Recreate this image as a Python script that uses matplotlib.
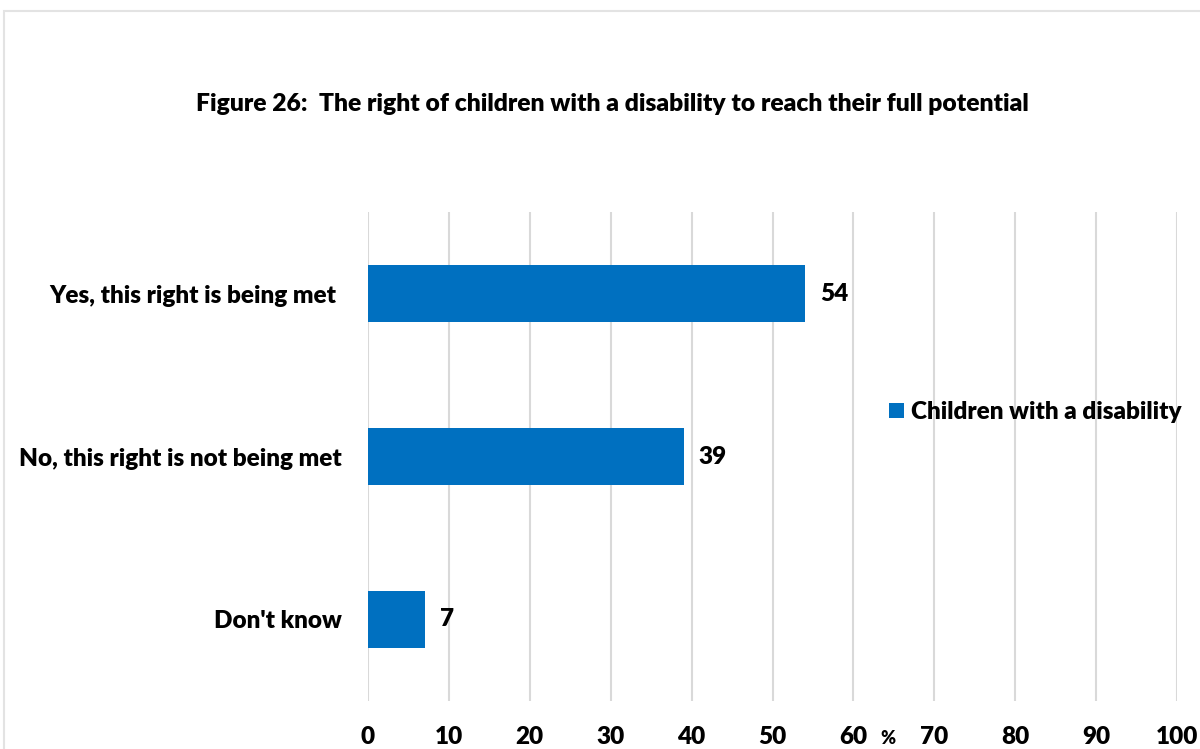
import matplotlib
matplotlib.use("Agg")
import matplotlib.pyplot as plt
from matplotlib.patches import Rectangle

categories = ["Yes, this right is being met ", "No, this right is not being met", "Don't know"]
values = [54, 39, 7]
series_name = "Children with a disability"
title = "Figure 26:  The right of children with a disability to reach their full potential"
x_ticks = [0, 10, 20, 30, 40, 50, 60, 70, 80, 90, 100]

plt.rcParams["font.family"] = ["Lato", "DejaVu Sans"]
W, H = 1200, 749
fig = plt.figure(figsize=(W / 100, H / 100), dpi=100)
WEIGHT = "heavy"
FS = 17.5

# outer chart frame
fig.patches.append(Rectangle((4 / W, -0.05), 1.1, 1 - 11 / H + 0.05, transform=fig.transFigure,
                             fill=False, edgecolor="#e3e3e3", linewidth=1.5))

ax = fig.add_axes([368 / W, 1 - 701 / H, (1177 - 368) / W, (701 - 212) / H])
blue = "#0070C0"
ypos = list(range(len(categories)))
bars = ax.barh(ypos, values, height=0.35, color=blue, label=series_name, zorder=3)
ax.set_ylim(len(categories) - 0.5, -0.5)
ax.set_xlim(0, 100)
ax.set_xticks(x_ticks)
ax.set_xticklabels([str(t) for t in x_ticks], fontsize=FS, fontweight=WEIGHT)
ax.set_yticks(ypos)
ax.set_yticklabels(categories, fontsize=FS, fontweight=WEIGHT)
ax.tick_params(axis="x", length=0, pad=18)
ax.tick_params(axis="y", length=0, pad=19)
ax.grid(axis="x", color="#d9d9d9", linewidth=1.5, zorder=0)
for s in ax.spines.values():
    s.set_visible(False)

for b, v in zip(bars, values):
    ax.annotate(str(v), (v, b.get_y() + b.get_height() / 2), xytext=(11, 0),
                textcoords="offset points", ha="left", va="center",
                fontsize=FS, fontweight=WEIGHT)

fig.text(612 / W, 1 - 104 / H, title, ha="center", va="center", fontsize=17.7, fontweight=WEIGHT)
fig.text(888 / W, 1 - 739 / H, "%", ha="center", va="center", fontsize=13, fontweight=WEIGHT)

ax.legend(loc="center left", bbox_to_anchor=(889 / W, 1 - 412 / H), bbox_transform=fig.transFigure,
          frameon=False, prop={"size": FS, "weight": WEIGHT}, handlelength=0.6, handleheight=0.6,
          handletextpad=0.3, borderpad=0, borderaxespad=0)

fig.savefig("out.png", dpi=100, facecolor="white")
